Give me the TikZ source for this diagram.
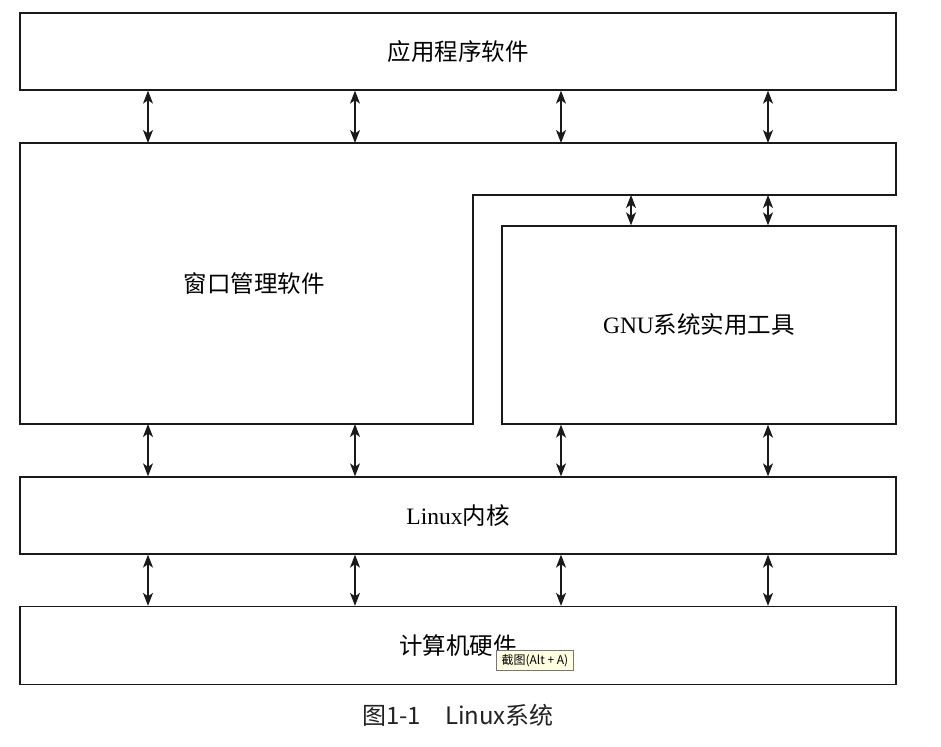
\documentclass[tikz,border=0pt]{standalone}
\usepackage{fontspec}
\setmainfont{Liberation Serif}
\newfontfamily\cjk{Noto Sans CJK SC}
\usetikzlibrary{arrows.meta}
\definecolor{lineC}{HTML}{1A1A1A}
\definecolor{tipfill}{HTML}{FFFFE1}
\definecolor{tipline}{HTML}{767676}
\definecolor{capC}{HTML}{222222}
\tikzset{
  box/.style={draw=lineC, line width=1.3pt, rectangle, inner sep=0pt, font=\fontsize{23.5}{27}\selectfont},
  lbl/.style={inner sep=0pt, font=\fontsize{23.5}{27}\selectfont},
  arr/.style={draw=lineC, line width=1.2pt, {Stealth[length=13pt,width=10pt,inset=3.5pt]}-{Stealth[length=13pt,width=10pt,inset=3.5pt]}},
  tip/.style={draw=tipline, fill=tipfill, line width=0.8pt, inner xsep=1pt, inner ysep=2pt, font=\cjk\fontsize{12}{13}\selectfont, anchor=north west},
}
\begin{document}
\begin{tikzpicture}[x=1pt,y=-1pt]
\useasboundingbox[fill=white] (0,0) rectangle (941,746);
% x positions of connectors
\coordinate (c1) at (148,0);
\coordinate (c2) at (355,0);
\coordinate (c3) at (561,0);
\coordinate (c4) at (768,0);
\coordinate (c5) at (631,0);
% boxes
\node[box, minimum width=876pt, minimum height=77pt] (app) at (458,51.5) {\cjk 应用程序软件};
\coordinate (wtop) at (20,143);
\coordinate (wstep) at (473,195);
\coordinate (wbot) at (20,424);
\draw[draw=lineC, line width=1.3pt] (20,143) -- (896,143) -- (896,195) -- (473,195) -- (473,424) -- (20,424) -- cycle;
\node[lbl] (win) at (254,283.5) {\cjk 窗口管理软件};
\node[box, minimum width=394pt, minimum height=198pt] (gnu) at (699,325) {GNU{\cjk 系统实用工具}};
\node[box, minimum width=876pt, minimum height=77pt] (linux) at (458,515.5) {Linux{\cjk 内核}};
\node[box, minimum width=876pt, minimum height=78pt] (hw) at (458,645.5) {\cjk 计算机硬件};
% connectors
\foreach \c in {c1,c2,c3,c4} {
  \draw[arr] (app.south -| \c) -- (wtop -| \c);
  \draw[arr] (linux.south -| \c) -- (hw.north -| \c);
}
\foreach \c in {c1,c2} \draw[arr] (wbot -| \c) -- (linux.north -| \c);
\foreach \c in {c3,c4} \draw[arr] (gnu.south -| \c) -- (linux.north -| \c);
\foreach \c in {c5,c4} \draw[arr] (wstep -| \c) -- (gnu.north -| \c);
% tooltip
\node[tip, minimum width=77pt, minimum height=20pt] (tt) at (496,650) {截图(Alt + A)};
% caption
\node[inner sep=0pt, text=capC, font=\cjk\fontsize{24}{28}\selectfont] (cap) at (458,715) {图1-1\hspace{1em}Linux系统};
\end{tikzpicture}
\end{document}
